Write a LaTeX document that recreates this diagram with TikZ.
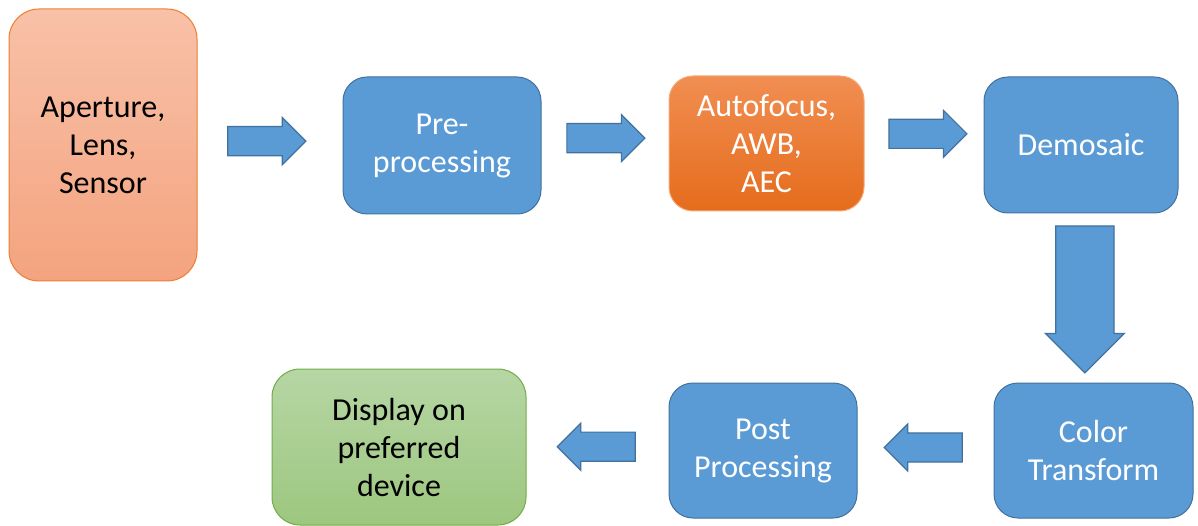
\documentclass[tikz,border=0pt]{standalone}
\usepackage{fontspec}
\setmainfont{Carlito}
\usetikzlibrary{shapes.arrows, calc}
\definecolor{stepblue}{RGB}{91,155,213}
\definecolor{stepedge}{RGB}{65,113,156}
\definecolor{lenstop}{RGB}{248,193,168}
\definecolor{lensbot}{RGB}{244,163,127}
\definecolor{lensedge}{RGB}{237,125,49}
\definecolor{aftop}{RGB}{241,142,82}
\definecolor{afbot}{RGB}{229,108,28}
\definecolor{afedge}{RGB}{244,170,120}
\definecolor{disptop}{RGB}{182,214,164}
\definecolor{dispbot}{RGB}{157,199,127}
\definecolor{dispedge}{RGB}{112,173,71}

\begin{document}
\begin{tikzpicture}[x=1pt, y=-1pt,
    box/.style={rounded corners=24pt, align=center, inner sep=0pt,
      line width=1pt, font=\fontsize{32}{38}\selectfont},
    bluebox/.style={box, draw=stepedge, fill=stepblue, text=white},
    flow/.style={single arrow, draw=stepedge, fill=stepblue, line width=1.2pt,
      inner sep=0pt, inner ysep=11pt, minimum height=78pt, minimum width=47pt,
      anchor=tail},
    bigflow/.style={flow, inner ysep=19.5pt, minimum height=147pt, minimum width=79pt}]
    \useasboundingbox (0,0) rectangle (1198,526);
    % Stufen der Pipeline
    \node[box, draw=lensedge, top color=lenstop, bottom color=lensbot,
      rounded corners=30pt, minimum width=188pt, minimum height=272pt]
      (aper) at (103,145) {Aperture,\\Lens,\\Sensor};
    \node[bluebox, minimum width=198pt, minimum height=137pt]
      (pre) at (442,145.5) {Pre-\\processing};
    \node[box, draw=afedge, top color=aftop, bottom color=afbot, text=white,
      minimum width=195pt, minimum height=135pt]
      (af) at (766.5,143.5) {Autofocus,\\AWB,\\AEC};
    \node[bluebox, minimum width=194pt, minimum height=136pt]
      (demo) at (1081,145) {Demosaic};
    \node[bluebox, minimum width=199pt, minimum height=135pt]
      (color) at (1093.5,450.5) {Color\\Transform};
    \node[bluebox, minimum width=188pt, minimum height=135pt]
      (post) at (763,450.5) {Post\\Processing};
    \node[box, draw=dispedge, top color=disptop, bottom color=dispbot,
      rounded corners=28pt, minimum width=254pt, minimum height=156pt]
      (disp) at (399,447) {Display on\\preferred\\device};
    % Blockpfeile (am Schaftende verankert)
    \node[flow] (a1) at ($(aper.east)!0.205!(pre.west)+(0,-4)$) {};
    \node[flow] (a2) at ($(pre.east)!0.195!(af.west)+(0,-7)$) {};
    \node[flow] (a3) at ($(af.east)!0.2!(demo.west)+(0,-10)$) {};
    \node[bigflow, rotate=-90] (a4) at ($(demo.south)!0.07!(color.north)+(3,0)$) {};
    \node[flow, rotate=180] (a5) at ($(color.west)!0.226!(post.east)+(0,-3)$) {};
    \node[flow, rotate=180] (a6) at ($(post.west)!0.23!(disp.east)+(0,-3)$) {};
\end{tikzpicture}
\end{document}
